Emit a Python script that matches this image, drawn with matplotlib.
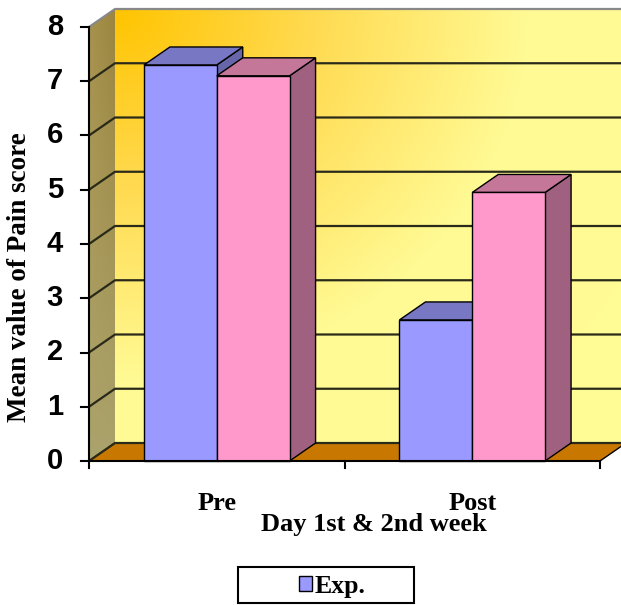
import numpy as np
import matplotlib
matplotlib.use("Agg")
import matplotlib.pyplot as plt
from matplotlib.patches import Polygon, Rectangle
from matplotlib.colors import to_rgb

categories = ["Pre", "Post"]
series_names = ["Exp.", "Control"]
exp_values = [7.3, 2.6]
ctrl_values = [7.1, 4.95]
y_ticks = [0, 1, 2, 3, 4, 5, 6, 7, 8]
x_label = "Day 1st & 2nd week"
y_label = "Mean value of Pain score"

front_colors = ["#9999FF", "#FF99CC"]
top_colors = ["#7777C4", "#C47799"]
side_colors = ["#6666A8", "#A06080"]

W, H = 621, 605
fig = plt.figure(figsize=(W / 100, H / 100), dpi=100)
ax = fig.add_axes([0, 0, 1, 1])

# pixel scale of one data unit on the front plane
sx, sy = 255.5, 54.25
left_px, zero_px = 89, 461
ax.set_xlim(-0.5 - left_px / sx, -0.5 + (W - left_px) / sx)
ax.set_ylim(-(H - zero_px) / sy, zero_px / sy)
ax.axis("off")

# depth offset of the 3-D box (back plane relative to front plane)
DX, DY = 26 / sx, 18 / sy
x0, x1 = -0.5, len(categories) - 0.5
ymax = y_ticks[-1]

serif = "Liberation Serif"
sans = "Liberation Sans"

# back wall with warm gradient
nrow, ncol = 200, 400
u = np.linspace(0, 1, ncol)[None, :]
w = np.linspace(0, 1, nrow)[:, None]
d = np.sqrt((u / 0.85) ** 2 + (w / 0.9) ** 2)
stops = [(0.0, "#FFC400"), (0.45, "#FFDA50"), (0.95, "#FFFA94"), (3.0, "#FFFF99")]
img = np.zeros((nrow, ncol, 3))
for k in range(3):
    img[..., k] = np.interp(d, [s[0] for s in stops], [to_rgb(s[1])[k] for s in stops])
ax.imshow(img, extent=[x0 + DX, x1 + DX, DY, ymax + DY], origin="upper",
          aspect="auto", zorder=1, interpolation="bilinear")

# left side wall
lw_poly = Polygon([(x0, 0), (x0 + DX, DY), (x0 + DX, ymax + DY), (x0, ymax)],
                  closed=True, facecolor="none", edgecolor="none", zorder=1)
ax.add_patch(lw_poly)
limg = np.zeros((nrow, 20, 3))
lu = np.linspace(0, 1, 20)[None, :]
lv = np.linspace(0, 1, nrow)[:, None]
top_c, bot_c = np.array(to_rgb("#A8924C")), np.array(to_rgb("#ABA36C"))
for k in range(3):
    limg[..., k] = top_c[k] + (bot_c[k] - top_c[k]) * lv - 0.05 * lu * (1 - lv)
lim = ax.imshow(np.clip(limg, 0, 1), extent=[x0, x0 + DX, 0, ymax + DY], origin="upper",
                aspect="auto", zorder=1, interpolation="bilinear")
lim.set_clip_path(lw_poly)

# floor
ax.add_patch(Polygon([(x0, 0), (x1, 0), (x1 + DX, DY), (x0 + DX, DY)], closed=True,
                     facecolor="#C87800", edgecolor="black", lw=1.0, zorder=2))

# gridlines on walls
for v in y_ticks:
    col = "#2a2a1a" if v < ymax else "#888888"
    ax.plot([x0, x0 + DX, x1 + DX + 0.2], [v, v + DY, v + DY], color=col, lw=1.6, zorder=2)

# bars
bar_w = 0.285
values = [exp_values, ctrl_values]
for i in range(len(categories)):
    for j, vals in enumerate(values):
        h = vals[i]
        l = i - bar_w + j * bar_w
        r = l + bar_w
        ax.add_patch(Polygon([(r, 0), (r + DX, DY), (r + DX, h + DY), (r, h)], closed=True,
                             facecolor=side_colors[j], edgecolor="black", lw=1.0, zorder=3))
        ax.add_patch(Polygon([(l, h), (r, h), (r + DX, h + DY), (l + DX, h + DY)], closed=True,
                             facecolor=top_colors[j], edgecolor="black", lw=1.0, zorder=3))
        ax.add_patch(Rectangle((l, 0), bar_w, h, facecolor=front_colors[j],
                               edgecolor="black", lw=1.0, zorder=3))

# front axes
ax.plot([x0, x0], [0, ymax], color="black", lw=1.5, zorder=4)
ax.plot([x0, x1], [0, 0], color="black", lw=1.5, zorder=4)
tick_len_x = 8 / sx
tick_len_y = 7 / sy
for v in y_ticks:
    ax.plot([x0 - tick_len_x, x0], [v, v], color="black", lw=1.5, zorder=4)
    ax.text(x0 - 26 / sx, v, str(v), ha="right", va="center", fontsize=21,
            fontweight="bold", family=sans, zorder=4)
for xt in np.arange(x0, x1 + 0.01, 1.0):
    ax.plot([xt, xt], [0, -tick_len_y], color="black", lw=1.5, zorder=4)

for i, c in enumerate(categories):
    ax.text(i, -43 / sy, c, ha="center", va="center", fontsize=19,
            fontweight="bold", family=serif)
ax.text((285 / sx) - 0.5, -64 / sy, x_label, ha="center", va="center", fontsize=19,
        fontweight="bold", family=serif)
ax.text(x0 - 69 / sx, (zero_px - 277) / sy, y_label, ha="center", va="center",
        rotation=90, fontsize=19.5, fontweight="bold", family=serif)

# legend box
fig.patches.append(Rectangle((238 / W, 1 - 603 / H), 176 / W, 36 / H, transform=fig.transFigure,
                             facecolor="white", edgecolor="black", lw=1.5, zorder=5))
handle = Rectangle((0, 0), 1, 1, facecolor=front_colors[0], edgecolor="black", lw=1.0)
leg = fig.legend([handle], [series_names[0]], loc="center left",
                 bbox_to_anchor=(286 / W, 1 - 586 / H), frameon=False,
                 handlelength=0.5, handleheight=0.5, handletextpad=0.1, borderpad=0,
                 prop={"family": serif, "weight": "bold", "size": 18.5})
leg.set_zorder(6)

fig.savefig("out.png", dpi=100)
